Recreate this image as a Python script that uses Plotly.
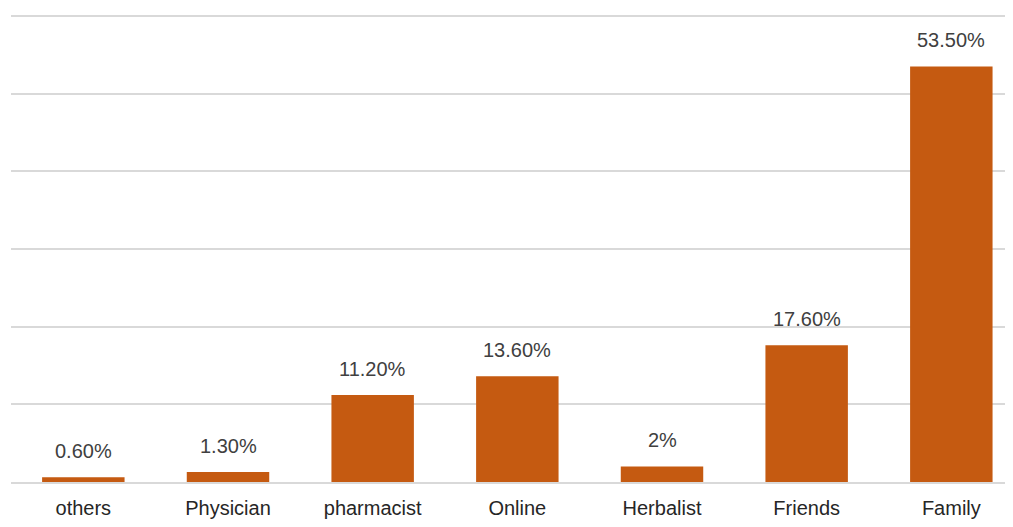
import plotly.graph_objects as go

categories = ["others", "Physician", "pharmacist", "Online", "Herbalist", "Friends", "Family"]
values = [0.6, 1.3, 11.2, 13.6, 2.0, 17.6, 53.5]
labels = ["0.60%", "1.30%", "11.20%", "13.60%", "2%", "17.60%", "53.50%"]

bar_color = "#C55A11"
font_family = "Liberation Sans"

fig = go.Figure()
fig.add_trace(go.Bar(
    x=categories, y=values, marker=dict(color=bar_color, line=dict(width=0)),
    width=0.57, hoverinfo="skip",
))

for c, v, t in zip(categories, values, labels):
    fig.add_annotation(x=c, y=v, text=t, showarrow=False, yanchor="bottom",
                       yshift=13, font=dict(family=font_family, size=20, color="#404040"))

fig.update_layout(
    width=997, height=511,
    margin=dict(l=3, r=0, t=4, b=30),
    plot_bgcolor="white", paper_bgcolor="white",
    showlegend=False,
    xaxis=dict(range=[-0.5, 6.371], showgrid=False, showline=True, linecolor="#d9d9d9",
               linewidth=1.5, tickfont=dict(family=font_family, size=20, color="#262626"),
               ticks="", ticklabelstandoff=7, fixedrange=True),
    yaxis=dict(range=[0, 60.5], tickvals=[10, 20, 30, 40, 50, 60], showgrid=True,
               gridcolor="#d9d9d9", gridwidth=1.5,
               showticklabels=False, zeroline=False, showline=False, fixedrange=True),
)

fig.write_html("out.html")
